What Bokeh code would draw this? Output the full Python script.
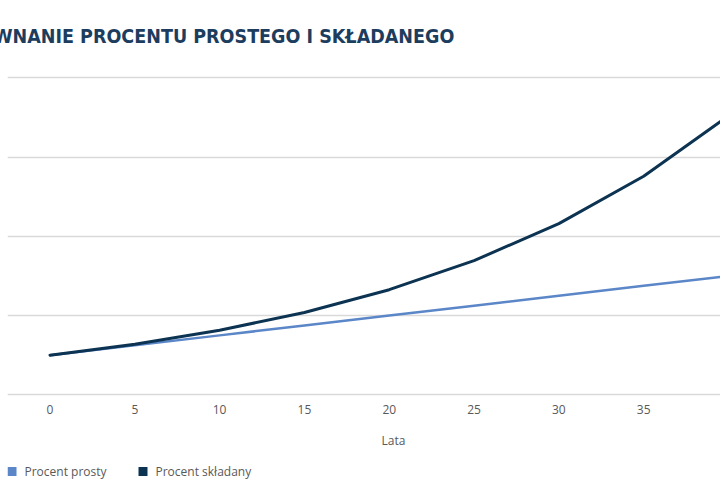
from bokeh.plotting import figure
from bokeh.layouts import column
from bokeh.models import Range1d, FixedTicker, Label
from bokeh.embed import file_html
from bokeh.resources import INLINE

# Savings of 1000 over 40 years at 5% a year, sampled every 5 years
years = [0, 5, 10, 15, 20, 25, 30, 35, 40]
simple_interest = [1000, 1250, 1500, 1750, 2000, 2250, 2500, 2750, 3000]
compound_interest = [1000, 1276, 1629, 2079, 2653, 3386, 4322, 5516, 7040]
year_ticks = [0, 5, 10, 15, 20, 25, 30, 35, 40]
value_ticks = [0, 2000, 4000, 6000, 8000]

title_text = "PORÓWNANIE PROCENTU PROSTEGO I SKŁADANEGO"
x_title = "Lata"
series_names = ["Procent prosty", "Procent składany"]
series_colors = ["#5b86c8", "#0c3452"]

TEXT_GREY = "#595959"
FONT = "Open Sans"
LEFT = 7  # left edge of the plotting area, in pixels

# ---- main chart -----------------------------------------------------------
p = figure(width=720, height=420, output_backend="svg", toolbar_location=None,
           x_range=Range1d(-2.506, 39.53), y_range=Range1d(-93.4, 8438),
           min_border_left=LEFT, min_border_right=0, min_border_top=60,
           min_border_bottom=22)
p.outline_line_color = None
p.background_fill_color = "white"
p.border_fill_color = "white"

# title, running off the left edge
p.title.text = title_text
p.title.align = "left"
p.title.offset = -70.5
p.title.standoff = 25
p.title.text_font = "DejaVu Sans Condensed, Roboto"
p.title.text_font_style = "bold"
p.title.text_font_size = "19.5px"
p.title.text_color = "#1d3d5e"

p.yaxis.visible = False
p.xaxis.ticker = FixedTicker(ticks=year_ticks)
p.xaxis.axis_line_color = None
p.xaxis.major_tick_line_color = None
p.xaxis.minor_tick_line_color = None
p.xaxis.major_tick_out = 0
p.xaxis.major_tick_in = 0
p.xaxis.major_label_standoff = 6
p.xaxis.major_label_text_font = FONT
p.xaxis.major_label_text_font_size = "12px"
p.xaxis.major_label_text_color = TEXT_GREY

p.xgrid.visible = False
p.ygrid.ticker = FixedTicker(ticks=value_ticks)
p.ygrid.grid_line_color = "#d9d9d9"
p.ygrid.grid_line_width = 1.5

p.line(years, simple_interest, line_color=series_colors[0], line_width=2.5,
       line_cap="round", line_join="round")
p.line(years, compound_interest, line_color=series_colors[1], line_width=3,
       line_cap="round", line_join="round")

# ---- strip under the chart: axis caption and key -------------------------
# the strip's frame lines up with the chart's, so x here is the page pixel
# and y counts pixels down from the strip's top
foot = figure(width=720, height=80, output_backend="svg", toolbar_location=None,
              x_range=Range1d(LEFT, 720), y_range=Range1d(80, 0),
              x_axis_type=None, y_axis_type=None, min_border=0,
              min_border_left=LEFT)
foot.outline_line_color = None
foot.xgrid.visible = False
foot.ygrid.visible = False

foot.add_layout(Label(x=393, y=20, text=x_title, text_align="center",
                      text_baseline="middle", text_font=FONT,
                      text_font_size="12px", text_color=TEXT_GREY))

key_x = [11.5, 142.5]
key_y = 51
foot.scatter(x=key_x, y=[key_y] * len(key_x), marker="square", size=9,
             line_color=None, fill_color=series_colors)
for kx, name in zip(key_x, series_names):
    foot.add_layout(Label(x=kx + 12.5, y=key_y, text=name, text_align="left",
                          text_baseline="middle", text_font=FONT,
                          text_font_size="12px", text_color=TEXT_GREY))

layout = column(p, foot, spacing=0)
open("out.html", "w").write(file_html(layout, INLINE))
